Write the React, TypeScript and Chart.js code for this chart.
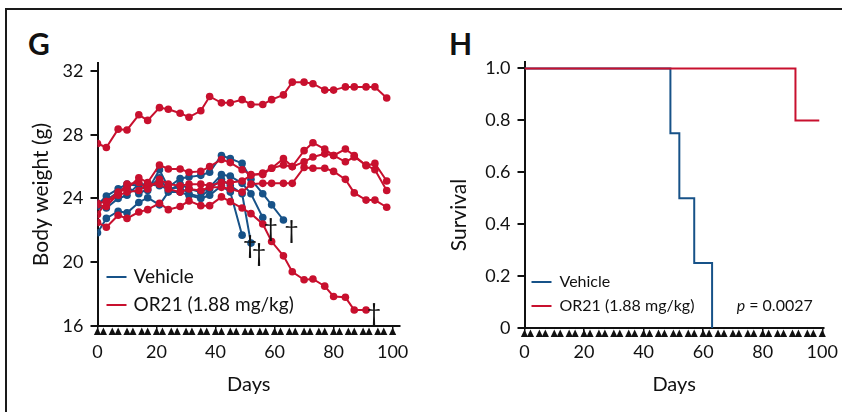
import React, { useEffect, useRef } from "react";
import { Chart, registerables } from "chart.js";

Chart.register(...registerables);

const FONT = "Lato, 'Noto Sans', sans-serif";
const BLUE = "#175288";
const RED = "#c8102e";
const INK = "#111111";

// ---- Panel G: body weight (g) ----
const WEIGHT_DAYS = [0, 3, 7, 10, 14, 17, 21, 24, 28, 31, 35, 38, 42, 45, 49, 52, 56, 59, 63, 66, 70, 73, 77, 80, 84, 87, 91, 94, 98];

const OR21_1 = [27.45, 27.2, 28.35, 28.3, 29.25, 28.9, 29.7, 29.6, 29.35, 29.1, 29.5, 30.4, 30.0, 30.0, 30.2, 29.9, 29.9, 30.2, 30.5, 31.3, 31.3, 31.2, 30.8, 30.8, 31.0, 31.0, 31.0, 31.0, 30.3];
const OR21_2 = [23.7, 23.8, 24.4, 24.6, 25.3, 25.0, 26.1, 25.85, 25.85, 25.65, 25.7, 26.0, 26.45, 26.25, 25.8, 25.5, 25.5, 25.9, 26.5, 26.0, 27.0, 27.5, 27.1, 26.7, 27.1, 26.7, 26.05, 26.2, 25.1];
const OR21_3 = [23.6, 23.5, 24.3, 24.9, 25.0, 24.6, 25.2, 24.9, 24.8, 24.9, 24.9, 24.8, 25.0, 25.0, 25.1, 25.45, 25.6, 25.9, 26.1, 26.0, 26.3, 26.6, 26.8, 26.7, 26.3, 26.6, 26.1, 25.8, 24.5];
const OR21_4 = [23.0, 23.8, 24.2, 24.4, 24.5, 24.9, 24.9, 24.6, 24.4, 24.6, 24.5, 24.7, 24.7, 24.6, 24.4, 24.9, 24.95, 24.95, 24.95, 24.95, 25.95, 25.9, 25.9, 25.7, 25.2, 24.35, 23.9, 23.9, 23.45];
const OR21_5 = [22.5, 22.2, 22.95, 22.75, 23.15, 23.3, 23.7, 23.3, 23.5, 23.85, 23.55, 23.55, 24.1, 23.8, 23.4, 23.05, 22.4, 21.3, 20.4, 19.4, 18.9, 18.95, 18.5, 17.85, 17.8, 17.0, 17.0];

const VEHICLE_1 = [21.85, 22.75, 23.2, 23.1, 23.75, 24.05, 23.6, 24.4, 24.4, 24.2, 24.0, 24.2, 24.8, 24.4, 21.7];
const VEHICLE_2 = [23.5, 23.4, 24.0, 24.2, 24.9, 24.9, 24.8, 24.6, 24.7, 24.3, 24.1, 24.6, 25.2, 24.8, 24.3, 21.2];
const VEHICLE_3 = [23.7, 23.9, 24.4, 24.7, 24.3, 24.6, 25.3, 24.5, 24.9, 24.6, 24.4, 24.7, 25.5, 25.4, 24.95, 24.3, 22.8];
const VEHICLE_4 = [23.6, 24.15, 24.6, 24.9, 24.8, 24.5, 25.8, 24.7, 25.25, 25.35, 25.45, 25.65, 26.7, 26.5, 26.2, 25.2, 24.3, 23.6, 22.65];

const OR21_SERIES = [OR21_1, OR21_2, OR21_3, OR21_4, OR21_5];
const VEHICLE_SERIES = [VEHICLE_1, VEHICLE_2, VEHICLE_3, VEHICLE_4];

const WEIGHT_TICKS = [16, 20, 24, 28, 32];
const DAY_TICKS = [0, 20, 40, 60, 80, 100];
const DOSING_DAYS = [0, 2, 5, 7, 10, 12, 15, 17, 20, 22, 25, 27, 30, 32, 35, 37, 40, 42, 45, 47, 50, 52, 55, 57, 60, 62, 65, 67, 70, 72, 75, 77, 80, 82, 85, 87, 90, 92, 95, 97, 100];

// ---- Panel H: survival ----
const VEHICLE_SURV_DAYS = [0, 49, 52, 57, 63];
const VEHICLE_SURV = [1, 0.75, 0.5, 0.25, 0];
const OR21_SURV_DAYS = [0, 91, 99];
const OR21_SURV = [1, 0.8, 0.8];
const SURV_TICKS = [0, 0.2, 0.4, 0.6, 0.8, 1.0];
const P_VALUE = "0.0027";

const LEGEND_LABELS = ["Vehicle", "OR21 (1.88 mg/kg)"];
const LEGEND_COLORS = [BLUE, RED];

const toXY = (xs: number[], ys: number[]) => ys.map((y, i) => ({ x: xs[i], y }));

function dosingPlugin(days: number[]) {
  return {
    id: "dosing",
    afterDraw(chart: any) {
      const { ctx, chartArea, scales } = chart;
      const x = scales.x;
      ctx.save();
      ctx.fillStyle = INK;
      for (const d of days) {
        const px = x.getPixelForValue(d);
        const top = chartArea.bottom + 1.5;
        ctx.beginPath();
        ctx.moveTo(px, top);
        ctx.lineTo(px + 3.6, top + 7.5);
        ctx.lineTo(px - 3.6, top + 7.5);
        ctx.closePath();
        ctx.fill();
      }
      ctx.restore();
    },
  };
}

const daggerPlugin = {
  id: "daggers",
  afterDatasetsDraw(chart: any) {
    const { ctx, chartArea } = chart;
    ctx.save();
    ctx.fillStyle = INK;
    ctx.font = `25px ${FONT}`;
    ctx.textAlign = "center";
    ctx.textBaseline = "middle";
    chart.data.datasets.forEach((ds: any, i: number) => {
      if (!ds.died) return;
      const pts = chart.getDatasetMeta(i).data;
      const last = pts[pts.length - 1];
      const y = Math.min(last.y + 11, chartArea.bottom - 12);
      ctx.fillText("\u2020", last.x + 8, y);
    });
    ctx.restore();
  },
};

function legendPlugin(size: number, lineStart: number, textStart: number, rows: number[], pText: string | null) {
  return {
    id: "customLegend",
    afterDraw(chart: any) {
      const { ctx, chartArea } = chart;
      ctx.save();
      ctx.font = `${size}px ${FONT}`;
      ctx.textBaseline = "middle";
      LEGEND_LABELS.forEach((label, i) => {
        const y = chartArea.bottom + rows[i];
        ctx.strokeStyle = LEGEND_COLORS[i];
        ctx.lineWidth = 2;
        ctx.beginPath();
        ctx.moveTo(chartArea.left + lineStart, y);
        ctx.lineTo(chartArea.left + lineStart + 20, y);
        ctx.stroke();
        ctx.fillStyle = INK;
        ctx.textAlign = "left";
        ctx.fillText(label, chartArea.left + textStart, y);
      });
      if (pText) {
        const y = chartArea.bottom + rows[1];
        const right = chartArea.right - 11;
        const rest = " = " + pText;
        ctx.textAlign = "right";
        ctx.font = `${size}px ${FONT}`;
        const w = ctx.measureText(rest).width;
        ctx.fillText(rest, right, y);
        ctx.font = `italic ${size}px ${FONT}`;
        ctx.fillText("p", right - w, y);
      }
      ctx.restore();
    },
  };
}

// Vertical axis title drawn a little below the axis centre (as in the figure)
function sideTitlePlugin(text: string, size: number, x: number, shift: number) {
  return {
    id: "sideTitle",
    afterDraw(chart: any) {
      const { ctx, chartArea } = chart;
      ctx.save();
      ctx.translate(x, (chartArea.top + chartArea.bottom) / 2 + shift);
      ctx.rotate(-Math.PI / 2);
      ctx.font = `${size}px ${FONT}`;
      ctx.fillStyle = INK;
      ctx.textAlign = "center";
      ctx.textBaseline = "middle";
      ctx.fillText(text, 0, 0);
      ctx.restore();
    },
  };
}

const axisCommon = (tickLength: number, lineWidth: number) => ({
  border: { display: true, color: INK, width: 2 },
  grid: { drawOnChartArea: false, drawTicks: true, tickLength, color: INK, lineWidth },
});

function weightConfig(): any {
  const common = { borderWidth: 2, pointRadius: 3.8, pointBorderWidth: 0, pointHoverRadius: 3.8, tension: 0 };
  const datasets = [
    ...OR21_SERIES.map((vals) => ({
      label: "OR21 (1.88 mg/kg)",
      data: toXY(WEIGHT_DAYS, vals),
      borderColor: RED,
      backgroundColor: RED,
      pointBackgroundColor: RED,
      died: vals.length < WEIGHT_DAYS.length,
      ...common,
    })),
    ...VEHICLE_SERIES.map((vals) => ({
      label: "Vehicle",
      data: toXY(WEIGHT_DAYS, vals),
      borderColor: BLUE,
      backgroundColor: BLUE,
      pointBackgroundColor: BLUE,
      died: vals.length < WEIGHT_DAYS.length,
      ...common,
    })),
  ];
  return {
    type: "line",
    data: { datasets },
    plugins: [dosingPlugin(DOSING_DAYS), daggerPlugin, legendPlugin(19, 9, 36, [-49, -21], null)],
    options: {
      responsive: true,
      maintainAspectRatio: false,
      animation: false,
      events: [],
      layout: { padding: { top: 63, right: 21, bottom: 0, left: 0 } },
      plugins: { legend: { display: false }, tooltip: { enabled: false } },
      scales: {
        x: {
          type: "linear",
          min: 0,
          max: 102.5,
          afterBuildTicks: (s: any) => { s.ticks = DAY_TICKS.map((v) => ({ value: v })); },
          afterFit: (s: any) => { s.height = 86; },
          ...axisCommon(9, 1.5),
          ticks: { color: INK, font: { family: FONT, size: 18 }, padding: 6, maxRotation: 0, autoSkip: false },
          title: { display: true, text: "Days", color: INK, font: { family: FONT, size: 20 }, padding: { top: 0, bottom: 15 } },
        },
        y: {
          type: "linear",
          min: 16,
          max: 32.5,
          afterBuildTicks: (s: any) => { s.ticks = WEIGHT_TICKS.map((v) => ({ value: v })); },
          afterFit: (s: any) => { s.width = 97.5; },
          ...axisCommon(7, 2),
          ticks: { color: INK, font: { family: FONT, size: 18 }, padding: 7 },
          title: { display: true, text: "Body weight (g)", color: INK, font: { family: FONT, size: 21 }, padding: { top: 29, bottom: 0 } },
        },
      },
    },
  };
}

function survivalConfig(): any {
  const common = { borderWidth: 2, pointRadius: 0, stepped: "before", tension: 0 };
  const datasets = [
    { label: "OR21 (1.88 mg/kg)", data: toXY(OR21_SURV_DAYS, OR21_SURV), borderColor: RED, backgroundColor: RED, ...common },
    { label: "Vehicle", data: toXY(VEHICLE_SURV_DAYS, VEHICLE_SURV), borderColor: BLUE, backgroundColor: BLUE, ...common },
  ];
  return {
    type: "line",
    data: { datasets },
    plugins: [
      dosingPlugin(DOSING_DAYS),
      legendPlugin(16, 7, 35, [-46, -22], P_VALUE),
      sideTitlePlugin("Survival", 21, 38, 20),
    ],
    options: {
      responsive: true,
      maintainAspectRatio: false,
      animation: false,
      events: [],
      layout: { padding: { top: 62, right: 16, bottom: 0, left: 0 } },
      plugins: { legend: { display: false }, tooltip: { enabled: false } },
      scales: {
        x: {
          type: "linear",
          min: 0,
          max: 100.5,
          afterBuildTicks: (s: any) => { s.ticks = DAY_TICKS.map((v) => ({ value: v })); },
          afterFit: (s: any) => { s.height = 84; },
          ...axisCommon(9, 1.5),
          ticks: { color: INK, font: { family: FONT, size: 18 }, padding: 4, maxRotation: 0, autoSkip: false },
          title: { display: true, text: "Days", color: INK, font: { family: FONT, size: 20 }, padding: { top: 0, bottom: 15 } },
        },
        y: {
          type: "linear",
          min: 0,
          max: 1.025,
          afterBuildTicks: (s: any) => { s.ticks = SURV_TICKS.map((v) => ({ value: v })); },
          afterFit: (s: any) => { s.width = 103.5; },
          ...axisCommon(7, 2),
          ticks: {
            color: INK,
            font: { family: FONT, size: 18 },
            padding: 7,
            callback: (v: any) => (v === 0 ? "0" : Number(v).toFixed(1)),
          },
          title: { display: false },
        },
      },
    },
  };
}

export default function App() {
  const gRef = useRef<HTMLCanvasElement>(null);
  const hRef = useRef<HTMLCanvasElement>(null);
  useEffect(() => {
    const g = new Chart(gRef.current as HTMLCanvasElement, weightConfig());
    const h = new Chart(hRef.current as HTMLCanvasElement, survivalConfig());
    return () => {
      g.destroy();
      h.destroy();
    };
  }, []);
  const letter: React.CSSProperties = {
    position: "absolute",
    top: 28,
    fontFamily: FONT,
    fontWeight: 700,
    fontSize: 30,
    lineHeight: "30px",
    color: INK,
  };
  return (
    <div style={{ position: "fixed", left: 0, top: 0, width: 842, height: 412, background: "#fff", overflow: "hidden" }}>
      <div
        style={{
          position: "absolute",
          left: 5,
          top: 8,
          width: 900,
          height: 500,
          borderTop: "2px solid #1a1a1a",
          borderLeft: "2px solid #1a1a1a",
        }}
      />
      <div style={{ ...letter, left: 28 }}>G</div>
      <div style={{ ...letter, left: 449 }}>H</div>
      <div style={{ position: "absolute", left: 0, top: 0, width: 421, height: 412 }}>
        <canvas ref={gRef} />
      </div>
      <div style={{ position: "absolute", left: 421, top: 0, width: 421, height: 412 }}>
        <canvas ref={hRef} />
      </div>
    </div>
  );
}
